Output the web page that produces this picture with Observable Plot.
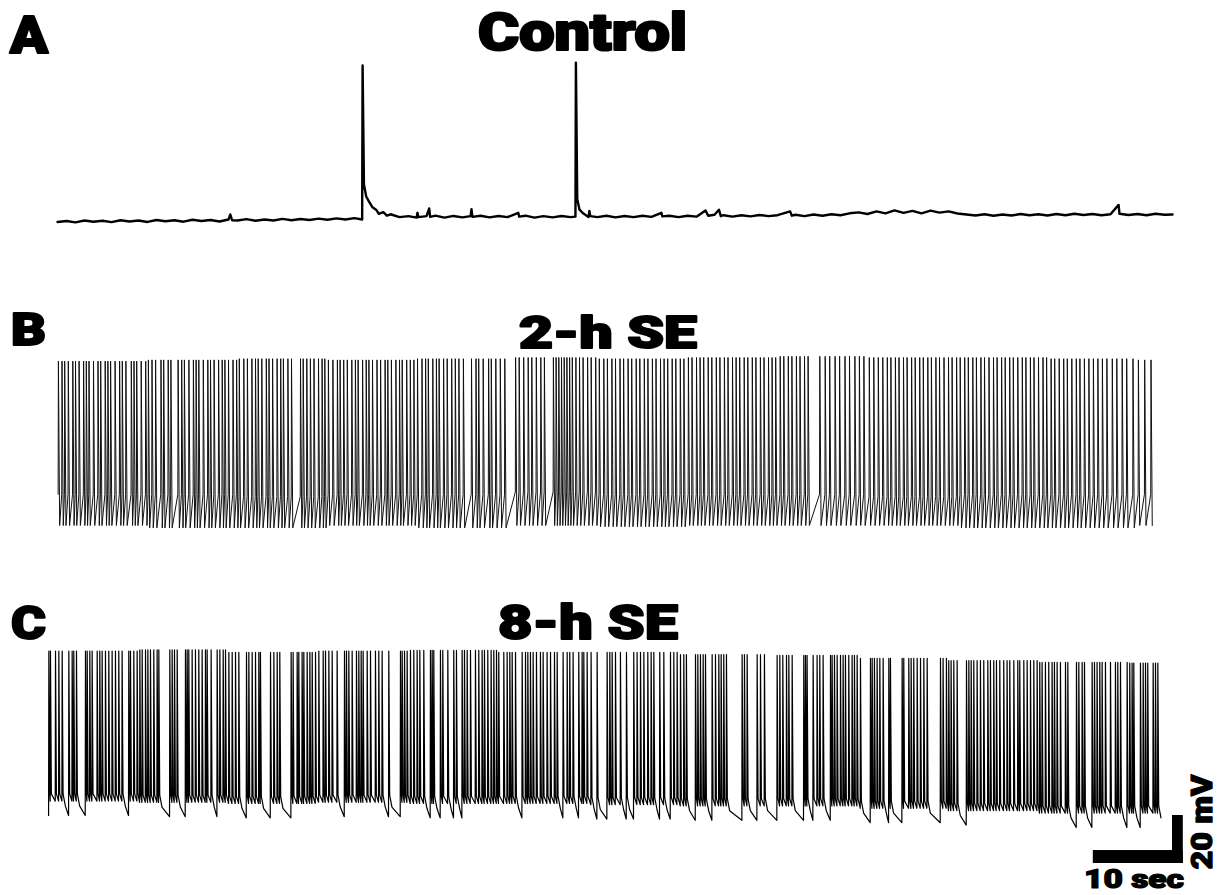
<!DOCTYPE html>
<html><head><meta charset="utf-8">
<script src="https://cdn.jsdelivr.net/npm/d3@7"></script>
<script src="https://cdn.jsdelivr.net/npm/@observablehq/plot@0.6"></script>
<style>
html,body{margin:0;padding:0;background:#fff;}
#root{position:relative;width:1223px;height:895px;overflow:hidden;background:#fff;}
.panel{position:absolute;}
#labels{position:absolute;left:0;top:0;}
#labels text{font-family:"Roboto","Lato","Liberation Sans",sans-serif;font-weight:900;fill:#000;stroke:#000;stroke-linejoin:round;}
</style></head><body><div id="root"></div>
<script>
// ---------- Panel titles ----------
const panelLetters = ["A", "B", "C"];
const panelTitles = ["Control", "2-h SE", "8-h SE"];
const scaleBarSec = 10, scaleBarMv = 20;
const scaleBarLabels = ["10 sec", "20 mV"];

// ---------- Panel A (Control): membrane potential trace (s, mV) ----------
const aTime = [0,1,2,3,4,5,6,7,8,9,10,11,12,13,14,15,16,17,18,19,19.2,19.4,20,21,22,23,24,25,26,27,28,29,30,31,32,33,
33.85,33.9,34.05,34.3,34.6,35.0,35.4,35.7,36.2,36.6,37,38,39,39.9,40.0,40.1,41,41.3,41.4,42,43,44,45,45.9,46.0,46.1,47,48,49,50,51.2,51.3,52,53,54,55,56,57,
57.55,57.6,57.75,58.0,58.4,59.0,59.1,59.2,60,61,62,63,64,65,66,67.1,67.2,68,69,70,71,72,72.3,73,73.5,73.7,74,75,76,77,78,79,80,81.4,81.6,82,83,84,85,86,87,88,89,90,91,92,93,94,95,96,97,98,99,100,101,102,103,104,105,106,107,108,109,110,111,112,113,114,115,116,117,117.9,118.0,119,120,121,122,123,123.9];
const aVolt = [-65.6,-65.2,-65.8,-65.0,-65.5,-65.1,-65.7,-64.9,-65.4,-65.0,-65.6,-64.8,-65.3,-64.9,-65.5,-64.7,-65.2,-64.8,-65.4,-64.6,-62.5,-64.9,-65.0,-64.4,-65.1,-64.6,-65.0,-64.3,-64.9,-64.4,-64.8,-64.2,-64.7,-64.1,-64.6,-64.0,
-64.6,-0.4,-50,-55,-57,-59.5,-60.5,-62.2,-61.5,-63,-62.4,-63.6,-63.2,-63.8,-61.8,-63.6,-63.2,-60.0,-63.5,-63.0,-63.8,-63.1,-63.7,-63.2,-60.3,-63.5,-63.0,-63.7,-63.1,-63.6,-61.8,-63.4,-63.0,-63.8,-63.2,-63.7,-63.1,-63.6,
-63.4,0.8,-56,-60.5,-62,-63.5,-61.0,-63.2,-63.6,-63.0,-63.7,-63.1,-63.6,-63.0,-63.5,-61.8,-63.3,-63.0,-63.6,-63.0,-63.4,-60.8,-63.0,-62.6,-60.5,-63.2,-62.8,-63.4,-62.8,-63.3,-62.7,-63.2,-62.8,-61.2,-63.0,-62.6,-63.2,-62.5,-63.0,-62.4,-62.8,-62.0,-61.6,-62.3,-61.2,-62.0,-60.8,-61.8,-61.0,-62.0,-60.9,-61.7,-61.2,-62.1,-62.5,-62.9,-62.4,-63.0,-62.5,-62.9,-62.3,-62.8,-62.4,-62.9,-62.3,-62.8,-62.2,-62.7,-62.3,-62.8,-62.4,-58.5,-62.2,-62.7,-62.3,-62.8,-62.2,-62.6,-62.5];

// ---------- Panel B (2-h SE): spike times (s) ----------
const bTimes = [0.1,0.5,0.8,1.2,1.7,2.0,2.4,2.9,3.2,3.5,4.0,4.5,4.8,5.3,5.6,5.9,6.4,6.9,7.2,7.6,8.2,8.5,8.8,9.3,9.8,10.1,10.5,10.9,11.5,11.8,12.3,12.6,
13.4,13.8,14.1,14.6,15.1,15.4,15.7,16.2,16.7,17.0,17.4,17.9,18.3,18.6,19.0,19.5,19.9,20.2,20.7,21.1,21.6,22.0,22.3,22.7,23.2,23.5,23.9,24.4,24.8,25.1,25.6,26.0,
27.0,27.3,27.7,28.1,28.5,29.0,29.4,29.7,30.1,30.6,31.1,31.4,31.8,32.2,32.7,33.1,33.4,33.9,34.3,34.6,35.0,35.5,35.9,36.4,36.7,37.1,37.6,38.0,38.3,38.8,39.2,39.6,40.0,40.5,40.9,41.2,41.7,42.1,42.4,42.9,43.3,43.8,44.2,44.6,45.1,
46.0,46.5,46.8,47.3,47.9,48.2,48.7,49.2,49.7,
50.9,51.3,51.8,52.3,52.7,53.2,53.7,54.1,
55.1,55.4,55.7,56.0,56.3,56.6,56.9,57.2,57.6,58.0,58.4,58.9,59.3,59.8,60.2,60.7,61.1,61.6,62.0,62.5,62.9,63.4,63.8,64.3,64.7,65.2,65.6,66.1,66.5,67.0,67.4,67.8,68.3,68.7,69.2,69.6,70.1,70.5,71.0,71.4,71.8,72.3,72.7,73.2,73.6,74.1,74.5,75.0,75.4,75.8,76.3,76.7,77.2,77.6,78.1,78.5,79.0,79.4,79.8,80.3,80.7,81.2,81.6,82.1,82.5,83.0,83.4,
84.7,85.3,85.8,86.4,86.9,87.5,88.0,88.6,89.1,89.6,90.2,90.7,91.2,91.7,92.2,92.6,93.1,93.5,94.0,94.4,94.9,95.3,95.8,96.2,96.7,97.1,97.6,98.0,98.5,99.0,99.4,99.9,100.3,100.8,101.2,101.7,102.1,102.6,103.0,103.5,104.0,104.4,104.9,105.3,105.8,106.2,106.7,107.2,107.6,108.1,108.5,109.0,109.5,109.9,110.4,110.8,111.3,111.8,112.2,112.7,113.2,113.6,114.1,114.6,115.1,115.6,116.1,116.6,117.2,117.7,118.3,118.8,119.5,120.1,120.8,121.5];
// per 10-s window levels (mV)
const bPeak   = [-1.5,-1.0,-0.5,-1.0,-0.5,0.0,-0.5,0.0,0.5,0.0,0.0,-0.5,-1.0];
const bTrough = [-70,-71,-71,-70,-71,-70,-70.5,-70,-70,-70,-71,-71,-70];
const bThreshold = [-57,-57,-58,-57,-57,-56,-57,-57,-57,-58,-57,-57,-57];

// ---------- Panel C (8-h SE): spike times (s) ----------
const cTimes = [0.15,0.33,0.89,1.26,1.63,2.37,2.74,2.92,3.22,4.22,4.41,4.70,4.96,5.52,5.81,6.07,6.44,6.81,7.18,7.55,7.92,8.29,9.03,9.22,9.59,9.96,10.26,10.52,10.89,11.15,11.44,11.81,12.18,12.37,13.59,13.85,14.11,14.41,15.33,15.52,15.70,16.07,16.44,16.81,17.18,17.55,17.74,18.18,18.85,19.15,19.52,19.78,20.15,20.52,20.89,21.26,22.11,22.37,22.74,23.11,23.48,23.66,24.78,25.15,25.52,25.81,27.07,27.29,27.74,27.92,28.29,28.48,28.85,29.15,29.41,29.78,30.15,30.63,30.89,31.26,31.63,32.18,33.00,33.22,33.48,33.85,34.33,34.59,34.85,35.07,35.52,35.89,36.44,36.81,37.18,37.92,39.22,39.41,39.67,39.96,40.33,40.70,
41.07,41.37,41.81,42.55,42.74,42.92,43.66,43.92,44.48,45.14,45.44,46.07,46.33,46.63,47.00,47.55,47.92,48.29,48.55,48.92,49.29,49.59,49.89,50.14,50.70,51.07,51.37,51.63,52.00,52.74,53.11,53.37,53.66,53.96,54.33,54.77,55.07,55.51,55.89,56.33,56.63,57.29,57.74,58.03,58.40,59.03,59.40,59.59,59.96,60.40,61.07,62.18,62.48,62.74,63.11,63.66,64.33,65.14,65.51,65.89,66.26,66.70,67.07,67.37,68.03,68.48,69.22,69.59,69.96,70.33,70.70,70.99,72.00,72.26,72.55,72.85,73.11,73.85,74.22,74.59,74.85,75.14,75.44,77.18,77.44,77.74,78.85,79.22,79.66,81.07,81.37,81.70,
82.11,82.37,82.74,84.03,84.22,84.40,85.07,85.51,85.81,86.18,87.00,87.18,87.44,87.74,88.11,88.40,88.66,89.03,89.40,89.66,89.96,90.33,91.44,91.63,91.88,92.18,92.48,92.85,93.48,93.66,94.96,95.14,95.70,95.96,96.25,96.63,97.00,97.37,97.74,99.22,99.51,99.88,100.14,100.40,100.70,101.07,102.11,102.37,102.63,102.92,103.29,103.66,104.03,104.48,104.77,105.14,105.44,105.81,106.25,106.62,106.92,107.37,107.81,108.03,108.48,108.85,109.22,109.59,109.96,110.25,110.51,110.88,111.25,111.62,111.88,112.18,112.55,113.11,113.37,114.33,114.59,114.96,115.22,116.07,116.33,116.62,116.92,117.18,117.55,118.11,118.66,118.92,119.22,119.96,120.25,120.51,120.70,121.44,121.74,122.00,122.25,122.85,123.11,123.37];
const cPeak = [-1.5,-1.0,-2.0,-1.5,-1.2,-2.0,-2.0,-3.0,-3.3,-4.5,-5.5,-6.2,-6.5];
const cBase = [-70,-70.5,-71,-70.5,-71,-71,-71.5,-72,-72,-73,-74,-75,-75];

// ---------- build traces ----------
const win = (arr, t) => arr[Math.max(0, Math.min(arr.length - 1, Math.floor(t / 10)))];

const traceA = aTime.map((t, i) => ({t, v: aVolt[i]}));

const traceB = [];
bTimes.forEach(t => {
  traceB.push({t: t - 0.03, v: win(bThreshold, t)});
  traceB.push({t, v: win(bPeak, t)});
  traceB.push({t: t + 0.14, v: win(bTrough, t)});
});

const traceC = [];
cTimes.forEach((t, i) => {
  const base = win(cBase, t);
  const prev = i > 0 ? cTimes[i - 1] : null;
  const next = i < cTimes.length - 1 ? cTimes[i + 1] : null;
  const foot = (prev != null && t - prev < 0.6) ? base + 6 : base;
  traceC.push({t: t - 0.03, v: foot});
  traceC.push({t, v: win(cPeak, t)});
  traceC.push({t: t + 0.1, v: base + 9});
  if (next == null || next - t > 0.6) traceC.push({t: t + 0.35, v: base + 4});
});

// ---------- render ----------
const root = document.getElementById("root");
function place(svg, left, top) {
  const d = document.createElement("div");
  d.className = "panel";
  d.style.left = left + "px"; d.style.top = top + "px";
  d.appendChild(svg);
  root.appendChild(d);
}
const baseStyle = {background: "transparent", overflow: "visible"};

place(Plot.plot({
  width: 1125, height: 190, margin: 0, style: baseStyle,
  x: {domain: [0, 125], axis: null},
  y: {domain: [-73.333, 5.833], axis: null},
  marks: [Plot.line(traceA, {x: "t", y: "v", stroke: "#000", strokeWidth: 2.4})]
}), 57, 50);

place(Plot.plot({
  width: 1116, height: 205, margin: 0, style: baseStyle,
  x: {domain: [0, 124], axis: null},
  y: {domain: [-78.333, 7.083], axis: null},
  marks: [Plot.line(traceB, {x: "t", y: "v", stroke: "#111", strokeWidth: 1})]
}), 57, 340);

const tEnd = 127;
const barRight = tEnd - 0.8;
const barBottom = -90;
const scaleBars = [
  {x1: barRight - scaleBarSec, x2: barRight, y1: barBottom, y2: barBottom + 5.4},
  {x1: barRight - 1.2, x2: barRight, y1: barBottom, y2: barBottom + scaleBarMv}
];
place(Plot.plot({
  width: 1143, height: 240, margin: 0, style: baseStyle,
  x: {domain: [0, tEnd], axis: null},
  y: {domain: [-92.917, 7.083], axis: null},
  marks: [
    Plot.line(traceC, {x: "t", y: "v", stroke: "#000", strokeWidth: 1.2}),
    Plot.rect(scaleBars, {x1: "x1", x2: "x2", y1: "y1", y2: "y2", fill: "#000"})
  ]
}), 47, 630);

// ---------- labels ----------
const NS = "http://www.w3.org/2000/svg";
const lab = document.createElementNS(NS, "svg");
lab.setAttribute("id", "labels");
lab.setAttribute("width", 1223); lab.setAttribute("height", 895);
const labels = [
  {s: panelLetters[0], x: 10, y: 53, size: 52, len: 38, sw: 2.2},
  {s: panelTitles[0], x: 478, y: 50, size: 51, len: 209, sw: 2.2},
  {s: panelLetters[1], x: 11, y: 345, size: 44, len: 35, sw: 2},
  {s: panelTitles[1], x: 519, y: 348, size: 44, len: 178, sw: 2},
  {s: panelLetters[2], x: 11, y: 639, size: 47, len: 35, sw: 2},
  {s: panelTitles[2], x: 498, y: 639, size: 48, len: 180, sw: 2},
  {s: scaleBarLabels[0], x: 1084, y: 888, size: 26, len: 100, sw: 1.2}
];
labels.forEach(l => {
  const t = document.createElementNS(NS, "text");
  t.setAttribute("x", l.x); t.setAttribute("y", l.y);
  t.setAttribute("font-size", l.size);
  t.setAttribute("stroke-width", l.sw);
  t.setAttribute("textLength", l.len);
  t.setAttribute("lengthAdjust", "spacingAndGlyphs");
  t.textContent = l.s;
  lab.appendChild(t);
});
const mv = document.createElementNS(NS, "text");
mv.setAttribute("transform", "translate(1212,822) rotate(-90)");
mv.setAttribute("text-anchor", "middle");
mv.setAttribute("font-size", 30);
mv.setAttribute("stroke-width", 1.2);
mv.setAttribute("textLength", 95);
mv.setAttribute("lengthAdjust", "spacingAndGlyphs");
mv.textContent = scaleBarLabels[1];
lab.appendChild(mv);
root.appendChild(lab);
</script></body></html>
